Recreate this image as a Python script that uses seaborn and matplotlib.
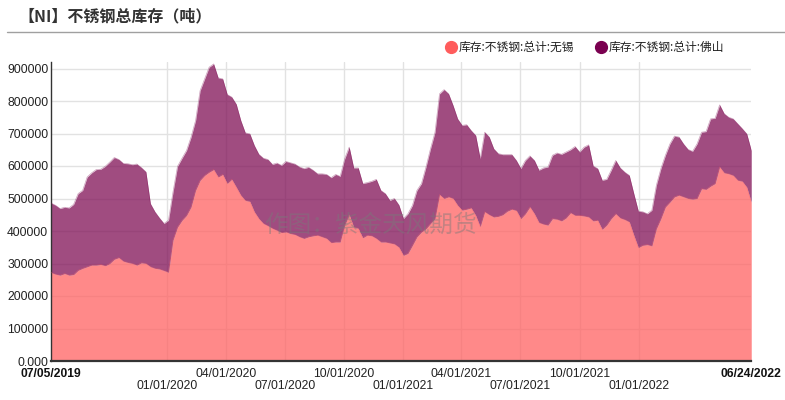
import matplotlib
matplotlib.use("Agg")
import matplotlib.pyplot as plt
from matplotlib.lines import Line2D
from matplotlib.transforms import blended_transform_factory
import seaborn as sns
import pandas as pd
import numpy as np

# ---------------- data (thousand tonnes, weekly from 2019-07-05) ----------------
start_date = "2019-07-05"
wuxi_kt = [
    272, 267, 264, 269, 264, 266, 279, 285, 290, 295, 295, 297, 293, 300, 313, 318, 307, 303, 300, 295,
    302, 300, 290, 285, 283, 278, 273, 372, 412, 433, 448, 474, 525, 556, 571, 581, 589, 566, 574, 546,
    559, 535, 510, 494, 491, 459, 438, 423, 416, 408, 402, 395, 397, 392, 389, 382, 377, 382, 385, 387,
    382, 377, 364, 366, 366, 418, 450, 412, 408, 379, 387, 385, 377, 366, 366, 363, 360, 350, 325, 331,
    356, 382, 397, 407, 423, 438, 512, 500, 505, 500, 479, 464, 467, 471, 448, 413, 459, 450, 443, 445,
    450, 461, 467, 463, 438, 453, 474, 453, 426, 421, 418, 438, 436, 431, 440, 456, 448, 448, 446, 443,
    431, 433, 405, 418, 438, 453, 440, 435, 428, 387, 349, 356, 358, 354, 407, 438, 474, 489, 505, 510,
    505, 500, 498, 500, 530, 528, 538, 546, 597, 579, 576, 571, 556, 553, 535, 489,
]
foshan_kt = [
    214, 212, 205, 204, 207, 216, 236, 240, 276, 284, 294, 293, 306, 312, 313, 302, 301, 304, 304, 311,
    293, 282, 194, 174, 157, 145, 160, 148, 187, 191, 200, 215, 215, 276, 297, 323, 325, 305, 294, 274,
    253, 255, 230, 208, 208, 204, 198, 201, 204, 197, 207, 207, 217, 218, 217, 215, 215, 214, 202, 189,
    194, 197, 200, 208, 202, 204, 208, 182, 186, 167, 162, 168, 182, 159, 149, 131, 140, 130, 113, 122,
    123, 143, 149, 190, 230, 266, 310, 335, 317, 286, 266, 261, 260, 238, 246, 209, 245, 239, 210, 193,
    185, 174, 168, 154, 154, 164, 157, 164, 161, 173, 179, 195, 204, 205, 203, 194, 212, 195, 212, 222,
    169, 159, 151, 141, 149, 164, 154, 146, 143, 128, 112, 103, 95, 110, 134, 154, 159, 179, 187, 179,
    163, 151, 147, 168, 174, 178, 207, 201, 191, 182, 174, 174, 174, 162, 164, 159,
]
series_names = ["库存:不锈钢:总计:无锡", "库存:不锈钢:总计:佛山"]
title_text = "【NI】不锈钢总库存（吨）"
watermark_text = "作图：紫金天风期货"
y_ticks = [0, 100000, 200000, 300000, 400000, 500000, 600000, 700000, 800000, 900000]
y_tick_labels = ["0.000", "100000", "200000", "300000", "400000", "500000",
                 "600000", "700000", "800000", "900000"]
quarter_ticks = ["2020-01-01", "2020-04-01", "2020-07-01", "2020-10-01", "2021-01-01",
                 "2021-04-01", "2021-07-01", "2021-10-01", "2022-01-01"]
end_date = "2022-06-24"

# ---------------- build frame ----------------
dates = pd.date_range(start_date, periods=len(wuxi_kt), freq="7D")
wuxi = np.array(wuxi_kt) * 1000
foshan = np.array(foshan_kt) * 1000
df = pd.DataFrame({"date": dates, "wuxi": wuxi, "total": wuxi + foshan})

sns.set_style("white")
plt.rcParams["font.family"] = ["Liberation Sans", "Noto Sans CJK SC", "DejaVu Sans"]

c_wuxi = "#FF6262"
c_fs = "#801056"
fill_alpha = 0.75

fig, ax = plt.subplots(figsize=(7.85, 4.0), dpi=100)
fig.subplots_adjust(left=0.065, right=0.957, bottom=0.0975, top=0.845)

ax.fill_between(df["date"], 0, df["wuxi"], color=c_wuxi, alpha=fill_alpha, linewidth=0, zorder=2)
ax.fill_between(df["date"], df["wuxi"], df["total"], color=c_fs, alpha=fill_alpha, linewidth=0, zorder=2)
sns.lineplot(data=df, x="date", y="wuxi", ax=ax, color=c_wuxi, alpha=0.4, linewidth=0.5, zorder=3)
sns.lineplot(data=df, x="date", y="total", ax=ax, color=c_fs, alpha=0.4, linewidth=0.5, zorder=3)

ax.set_xlim(pd.Timestamp(start_date), pd.Timestamp(end_date))
ax.set_ylim(0, 920000)
ax.set_xlabel("")
ax.set_ylabel("")

qt = [pd.Timestamp(d) for d in quarter_ticks]
ax.set_xticks(qt)
ax.set_xticklabels([])
ax.set_yticks(y_ticks)
ax.set_yticklabels(y_tick_labels, fontsize=8.7, color="#222222")
ax.tick_params(axis="both", length=0)
ax.tick_params(axis="y", pad=2)

ax.set_axisbelow(True)
ax.grid(True, color="#e2e2e2", linewidth=1.0)

for s in ["top", "right"]:
    ax.spines[s].set_visible(False)
ax.spines["left"].set_color("#333333")
ax.spines["left"].set_linewidth(1.0)
ax.spines["bottom"].set_color("#333333")
ax.spines["bottom"].set_linewidth(1.6)

# x labels in two rows
trans = blended_transform_factory(ax.transData, ax.transAxes)
row1, row2 = -0.044, -0.084
ax.text(pd.Timestamp(start_date), row1, pd.Timestamp(start_date).strftime("%m/%d/%Y"),
        transform=trans, ha="center", va="center", fontsize=8.7, fontweight="bold", color="#111111")
ax.text(pd.Timestamp(end_date), row1, pd.Timestamp(end_date).strftime("%m/%d/%Y"),
        transform=trans, ha="center", va="center", fontsize=8.7, fontweight="bold", color="#111111")
for k, d in enumerate(qt):
    ax.text(d, row2 if k % 2 == 0 else row1, d.strftime("%m/%d/%Y"), transform=trans,
            ha="center", va="center", fontsize=8.7, color="#222222")

# watermark
fig.text(370 / 785, 1 - 225 / 400, watermark_text, ha="center", va="center",
         fontsize=17, color="#7a7a7a", alpha=0.45, family=["Noto Sans CJK SC", "DejaVu Sans"], zorder=10)

# title & separator
fig.text(18 / 785, 1 - 16 / 400, title_text, ha="left", va="center", fontsize=11.5,
         fontweight="bold", color="#333333", family=["Noto Sans CJK SC", "DejaVu Sans"])
fig.add_artist(Line2D([7 / 785, 1.0], [1 - 32 / 400, 1 - 32 / 400], transform=fig.transFigure,
                      color="#a0a0a0", linewidth=1.0))

# legend
leg_y = 1 - 47 / 400
for (cx, tx), name, col in zip([(451, 459), (601, 609)], series_names, ["#FF5C5C", "#7A0050"]):
    fig.add_artist(Line2D([cx / 785], [leg_y], transform=fig.transFigure, marker="o",
                          markersize=8.5, color=col, linestyle="none"))
    fig.text(tx / 785, leg_y, name, ha="left", va="center", fontsize=8.5, color="#222222",
             family=["Noto Sans CJK SC", "DejaVu Sans"])

fig.savefig("out.png", dpi=100)
